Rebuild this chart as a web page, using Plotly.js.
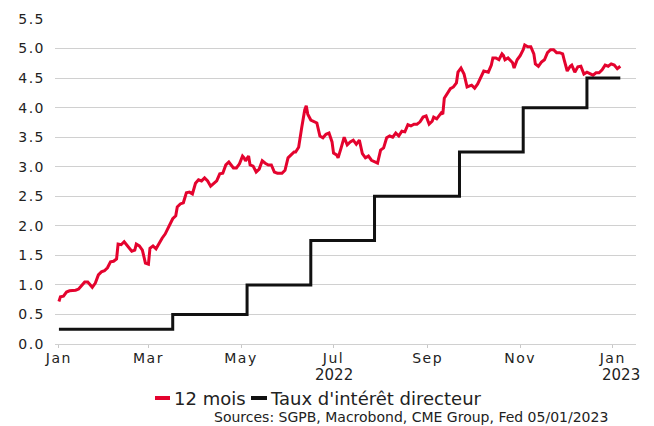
<!DOCTYPE html>
<html>
<head>
<meta charset="utf-8">
<script src="https://cdn.plot.ly/plotly-3.0.1.min.js"></script>
<style>
html,body{margin:0;padding:0;background:#fff;}
#chart{width:654px;height:426px;}
#chart .xtick text, #chart .ytick text{letter-spacing:1.5px;}
</style>
</head>
<body>
<div id="chart"></div>
<script>
// 12-month yield (red)
var rateDates = ["2022-01-01","2022-01-02","2022-01-04","2022-01-06","2022-01-08","2022-01-12","2022-01-14","2022-01-16","2022-01-18","2022-01-20",
"2022-01-23","2022-01-25","2022-01-27","2022-01-29","2022-01-31","2022-02-02","2022-02-04","2022-02-06","2022-02-08","2022-02-09",
"2022-02-11","2022-02-13","2022-02-16","2022-02-18","2022-02-20","2022-02-21","2022-02-23","2022-02-25","2022-02-27","2022-03-01",
"2022-03-02","2022-03-04","2022-03-06","2022-03-08","2022-03-10","2022-03-12","2022-03-14","2022-03-15","2022-03-17","2022-03-19",
"2022-03-20","2022-03-22","2022-03-24","2022-03-26","2022-03-28","2022-03-30","2022-04-01","2022-04-03","2022-04-05","2022-04-07",
"2022-04-09","2022-04-11","2022-04-13","2022-04-15","2022-04-17","2022-04-19","2022-04-21","2022-04-23","2022-04-26","2022-04-28",
"2022-04-30","2022-05-02","2022-05-03","2022-05-04","2022-05-06","2022-05-07","2022-05-09","2022-05-11","2022-05-13","2022-05-15",
"2022-05-17","2022-05-19","2022-05-21","2022-05-23","2022-05-25","2022-05-28","2022-05-30","2022-06-01","2022-06-03","2022-06-05",
"2022-06-06","2022-06-08","2022-06-10","2022-06-12","2022-06-13","2022-06-14","2022-06-16","2022-06-18","2022-06-20","2022-06-22",
"2022-06-24","2022-06-26","2022-06-28","2022-06-30","2022-07-01","2022-07-03","2022-07-04","2022-07-06","2022-07-08","2022-07-10",
"2022-07-12","2022-07-14","2022-07-16","2022-07-18","2022-07-20","2022-07-22","2022-07-24","2022-07-26","2022-07-28","2022-07-30",
"2022-08-01","2022-08-03","2022-08-05","2022-08-07","2022-08-09","2022-08-11","2022-08-13","2022-08-15","2022-08-17","2022-08-19",
"2022-08-21","2022-08-23","2022-08-25","2022-08-27","2022-08-29","2022-08-31","2022-09-02","2022-09-04","2022-09-05","2022-09-07",
"2022-09-10","2022-09-11","2022-09-12","2022-09-14","2022-09-16","2022-09-18","2022-09-20","2022-09-21","2022-09-23","2022-09-25",
"2022-09-27","2022-09-30","2022-10-02","2022-10-04","2022-10-06","2022-10-08","2022-10-11","2022-10-13","2022-10-14","2022-10-16",
"2022-10-18","2022-10-20","2022-10-21","2022-10-22","2022-10-24","2022-10-27","2022-10-28","2022-10-30","2022-11-01","2022-11-03",
"2022-11-04","2022-11-06","2022-11-08","2022-11-10","2022-11-11","2022-11-13","2022-11-15","2022-11-17","2022-11-19","2022-11-21",
"2022-11-23","2022-11-25","2022-11-27","2022-11-29","2022-11-30","2022-12-02","2022-12-04","2022-12-05","2022-12-07","2022-12-09",
"2022-12-11","2022-12-13","2022-12-15","2022-12-17","2022-12-19","2022-12-21","2022-12-23","2022-12-25","2022-12-27","2022-12-29",
"2022-12-31","2023-01-02","2023-01-04","2023-01-06"];
var rateValues = [0.72,0.80,0.81,0.88,0.90,0.91,0.93,1.00,1.05,1.05,
0.96,1.03,1.17,1.22,1.24,1.29,1.39,1.40,1.44,1.69,
1.68,1.73,1.64,1.57,1.59,1.69,1.66,1.59,1.37,1.35,
1.62,1.66,1.61,1.71,1.79,1.86,1.96,2.01,2.12,2.17,
2.32,2.37,2.39,2.56,2.57,2.54,2.72,2.78,2.76,2.81,
2.76,2.67,2.72,2.76,2.88,2.89,3.03,3.08,2.98,2.98,
3.05,3.18,3.15,3.10,3.18,3.03,3.01,2.91,2.96,3.10,
3.06,3.03,3.03,2.91,2.89,2.89,2.94,3.15,3.20,3.25,
3.25,3.33,3.66,3.96,4.03,3.89,3.79,3.76,3.74,3.52,
3.49,3.55,3.57,3.42,3.23,3.20,3.15,3.32,3.50,3.37,
3.42,3.45,3.38,3.45,3.22,3.15,3.18,3.11,3.08,3.06,
3.28,3.32,3.49,3.52,3.50,3.57,3.52,3.60,3.59,3.71,
3.69,3.72,3.72,3.76,3.84,3.86,3.72,3.77,3.84,3.81,
3.91,3.89,4.16,4.25,4.32,4.35,4.42,4.60,4.67,4.57,
4.35,4.38,4.33,4.40,4.52,4.62,4.60,4.72,4.84,4.84,
4.81,4.91,4.88,4.81,4.84,4.76,4.67,4.81,4.88,4.98,
5.06,5.03,5.03,4.91,4.74,4.70,4.77,4.81,4.93,4.98,
4.98,4.93,4.93,4.91,4.81,4.62,4.70,4.72,4.60,4.69,
4.70,4.57,4.60,4.57,4.55,4.59,4.59,4.64,4.72,4.70,
4.74,4.72,4.66,4.70];

// Fed policy rate (black, step)
var fedDates = ["2022-01-01","2022-03-17","2022-05-05","2022-06-16","2022-07-28","2022-09-22","2022-11-03","2022-12-15","2023-01-06"];
var fedValues = [0.25,0.50,1.00,1.75,2.50,3.25,4.00,4.50,4.50];

var tickDates = ["2022-01-01","2022-03-01","2022-05-01","2022-07-01","2022-09-01","2022-11-01","2023-01-01"];
var tickLabels = ["Jan","Mar","May","Jul","Sep","Nov","Jan"];
var yTicks = [0,0.5,1,1.5,2,2.5,3,3.5,4,4.5,5,5.5];

var seriesNames = ["12 mois","Taux d'intérêt directeur"];
var sourceText = "Sources: SGPB, Macrobond, CME Group, Fed 05/01/2023";

var RED = "#e4032e", BLK = "#111111", FONT = "DejaVu Sans, Verdana, sans-serif";

var traces = [
  {x: rateDates, y: rateValues, type: "scatter", mode: "lines", name: seriesNames[0],
   line: {color: RED, width: 3}},
  {x: fedDates, y: fedValues, type: "scatter", mode: "lines", name: seriesNames[1],
   line: {color: BLK, width: 3, shape: "hv"}}
];

var L = 55, R = 636, T = 19, B = 344, W = R - L, H = B - T;
function px(p){ return (p - L) / W; }
function py(p){ return (B - p) / H; }

var layout = {
  width: 654, height: 426,
  margin: {l: L, r: 654 - R, t: T, b: 426 - B, pad: 0},
  paper_bgcolor: "#fff", plot_bgcolor: "#fff",
  font: {family: FONT, size: 14, color: "#222"},
  showlegend: false,
  xaxis: {
    type: "date",
    range: ["2021-12-29 10:00", "2023-01-16 08:00"],
    tickmode: "array", tickvals: tickDates, ticktext: tickLabels,
    showgrid: false, zeroline: false, showline: false,
    ticks: "outside", ticklen: 3, tickcolor: "#c8c8c8", tickwidth: 1,
    ticklabelstandoff: -2,
    tickfont: {family: FONT, size: 14, color: "#222"}
  },
  yaxis: {
    range: [0, 5.5],
    tickmode: "array", tickvals: yTicks, ticktext: yTicks.map(function(v){return v.toFixed(1);}),
    showgrid: true, gridcolor: "#d0d0d0", gridwidth: 1,
    zeroline: true, zerolinecolor: "#d0d0d0", zerolinewidth: 1,
    showline: false, ticks: "", ticklabelstandoff: 9,
    tickfont: {family: FONT, size: 14, color: "#222"}
  },
  shapes: [
    {type: "line", xref: "paper", yref: "paper", x0: px(155), x1: px(170), y0: py(398), y1: py(398),
     line: {color: RED, width: 4}},
    {type: "line", xref: "paper", yref: "paper", x0: px(251), x1: px(267), y0: py(398), y1: py(398),
     line: {color: BLK, width: 4}}
  ],
  annotations: [
    {xref: "x", yref: "paper", x: "2022-07-01", y: py(375), text: "2022", showarrow: false,
     xanchor: "center", yanchor: "middle", font: {family: FONT, size: 15, color: "#222"}},
    {xref: "x", yref: "paper", x: "2023-01-01", y: py(375), text: "2023", showarrow: false,
     xanchor: "left", xshift: -13, yanchor: "middle", font: {family: FONT, size: 15, color: "#222"}},
    {xref: "paper", yref: "paper", x: px(172), y: py(398), text: seriesNames[0], showarrow: false,
     xanchor: "left", yanchor: "middle", font: {family: FONT, size: 18, color: "#222"}},
    {xref: "paper", yref: "paper", x: px(268), y: py(398), text: seriesNames[1], showarrow: false,
     xanchor: "left", yanchor: "middle", font: {family: FONT, size: 18, color: "#222"}},
    {xref: "paper", yref: "paper", x: px(610), y: py(417), text: sourceText, showarrow: false,
     xanchor: "right", yanchor: "middle", font: {family: FONT, size: 14, color: "#222"}}
  ]
};

Plotly.newPlot("chart", traces, layout, {staticPlot: true, displayModeBar: false});
</script>
</body>
</html>
